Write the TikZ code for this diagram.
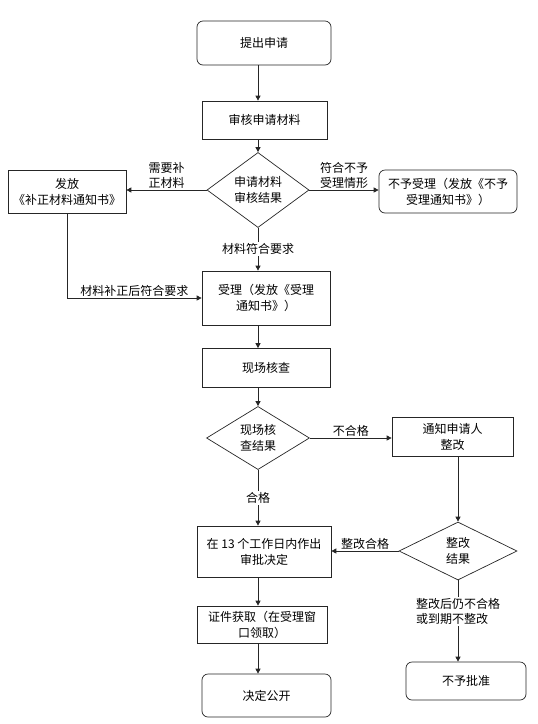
\documentclass[tikz,border=0pt]{standalone}
\usepackage{fontspec}
\setmainfont{Noto Sans CJK SC}
\usetikzlibrary{shapes.geometric,arrows.meta}
\tikzset{
  box/.style={draw=black!85, line width=0.7pt, rectangle, align=center, inner sep=0pt, font=\fontsize{12}{16}\selectfont},
  rbox/.style={box, rounded corners=6pt},
  decision/.style={draw=black!85, line width=0.7pt, diamond, align=center, inner sep=0pt, font=\fontsize{12}{16}\selectfont},
  arr/.style={draw=black!85, line width=0.8pt, -{Triangle[length=5pt,width=5pt]}},
  lbl/.style={align=center, inner sep=1.5pt, font=\fontsize{12}{15}\selectfont}
}
\begin{document}
\begin{tikzpicture}[x=1pt,y=-1pt]
            \useasboundingbox (0,0) rectangle (538,724);
            % main column
            \node[rbox, minimum width=134, minimum height=44] (start) at (264,43) {提出申请};
            \node[box, minimum width=125, minimum height=38] (review) at (264.5,120) {审核申请材料};
            \node[decision, minimum width=102, minimum height=58] (d1) at (258,190) {申请材料\\审核结果};
            \node[box, minimum width=118, minimum height=43] (fix) at (67,191.5) {发放\\《补正材料通知书》};
            \node[rbox, minimum width=138, minimum height=43] (reject) at (448,191.5) {不予受理（发放《不予\\受理通知书》）};
            \node[box, minimum width=128, minimum height=54] (accept) at (266,298) {受理（发放《受理\\通知书》）};
            \node[box, minimum width=128, minimum height=39] (check) at (266,368) {现场核查};
            \node[decision, minimum width=103, minimum height=52] (d2) at (258,438) {现场核\\查结果};
            \node[box, minimum width=121, minimum height=39] (notify) at (452.5,436.5) {通知申请人\\整改};
            \node[box, minimum width=134, minimum height=51] (decide) at (264,551.5) {在 13 个工作日内作出\\审批决定};
            \node[decision, minimum width=118, minimum height=58] (d3) at (458,551) {整改\\结果};
            \node[box, minimum width=130, minimum height=37] (cert) at (262,624.5) {证件获取（在受理窗\\口领取）};
            \node[rbox, minimum width=129, minimum height=43] (public) at (266.5,695.5) {决定公开};
            \node[rbox, minimum width=120, minimum height=38] (deny) at (466,681) {不予批准};

            % connectors
            \draw[arr] (start.south -| d1) -- (review.north -| d1);
            \draw[arr] (review.south -| d1) -- (d1.north);
            \draw[arr] (d1.west) -- node[lbl, above] (l1) {需要补\\正材料} (d1.west -| fix.east);
            \draw[arr] (d1.east) -- node[lbl, above] (l2) {符合不予\\受理情形} (d1.east -| reject.west);
            \draw[arr] (d1.south) -- node[lbl, fill=white] (l3) {材料符合要求} (accept.north -| d1);
            \draw[arr] (fix.south) |- node[lbl, above, pos=0.75] (l4) {材料补正后符合要求} (accept.west);
            \draw[arr] (accept.south -| d1) -- (check.north -| d1);
            \draw[arr] (check.south -| d1) -- (d2.north);
            \draw[arr] (d2.east) -- node[lbl, above] (l5) {不合格} (d2.east -| notify.west);
            \draw[arr] (d2.south) -- node[lbl, fill=white] (l6) {合格} (decide.north -| d2);
            \draw[arr] (notify.south -| d3) -- (d3.north);
            \draw[arr] (d3.west) -- node[lbl, above] (l7) {整改合格} (d3.west -| decide.east);
            \draw[arr] (decide.south -| d1) -- (cert.north -| d1);
            \draw[arr] (cert.south -| d1) -- (public.north -| d1);
            \draw[arr] (d3.south) -- node[lbl, fill=white, align=left, pos=0.38] (l8) {整改后仍不合格\\或到期不整改} (deny.north -| d3);
        \end{tikzpicture}
\end{document}
